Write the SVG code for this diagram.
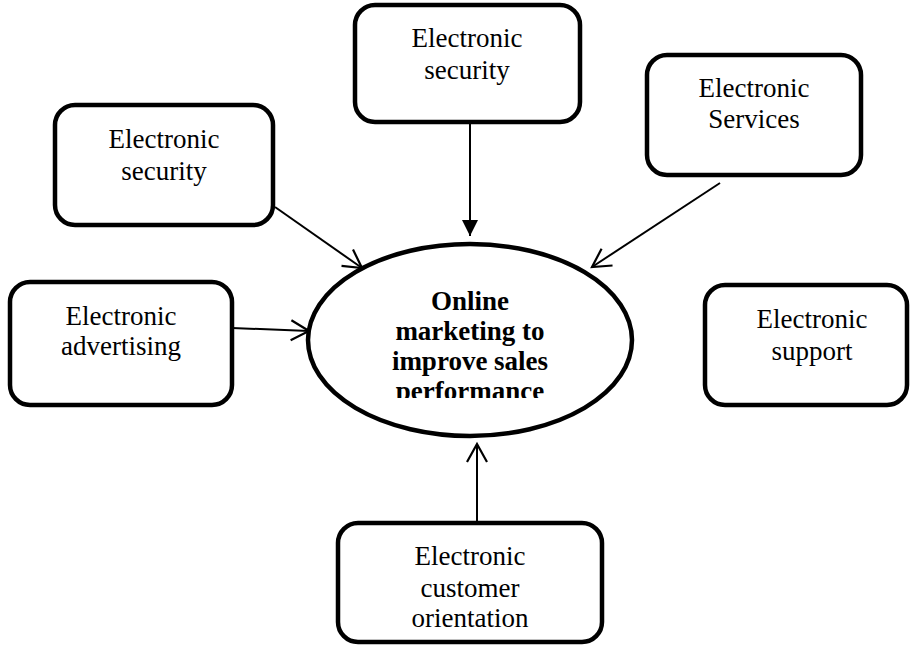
<svg xmlns="http://www.w3.org/2000/svg" width="910" height="645" viewBox="0 0 910 645">
<style>
.box{fill:#fff;stroke:#000;stroke-width:4.5}
.t{font-family:"Liberation Serif","Times New Roman",serif;font-size:27px;text-anchor:middle;fill:#000}
.b{font-family:"Liberation Serif","Times New Roman",serif;font-size:27px;font-weight:bold;text-anchor:middle;fill:#000}
.c{fill:none;stroke:#000;stroke-width:2}
</style>
<defs>
<marker id="open" markerWidth="24" markerHeight="24" refX="20" refY="12" orient="auto" markerUnits="userSpaceOnUse">
<path d="M2,2 L20,12 L2,22" fill="none" stroke="#000" stroke-width="2.2"/>
</marker>
<marker id="solid" markerWidth="20" markerHeight="20" refX="16" refY="8" orient="auto" markerUnits="userSpaceOnUse">
<path d="M0,0 L16,8 L0,16 Z" fill="#000"/>
</marker>
<clipPath id="clipE"><rect x="300" y="240" width="350" height="158"/></clipPath>
</defs>
<g id="connectors">
<line class="c" x1="470" y1="122" x2="470" y2="236" marker-end="url(#solid)"/>
<line class="c" x1="275" y1="207" x2="362" y2="268" marker-end="url(#open)"/>
<line class="c" x1="720" y1="183" x2="592" y2="267" marker-end="url(#open)"/>
<line class="c" x1="232" y1="328" x2="309" y2="331" marker-end="url(#open)"/>
<line class="c" x1="477" y1="523" x2="477" y2="444" marker-end="url(#open)"/>
</g>
<g id="center">
<ellipse cx="470" cy="340" rx="162" ry="96" fill="#fff" stroke="#000" stroke-width="4.5"/>
<g clip-path="url(#clipE)">
<text class="b" x="470" y="310">Online</text>
<text class="b" x="470" y="340">marketing to</text>
<text class="b" x="470" y="370">improve sales</text>
<text class="b" x="470" y="400">performance</text>
</g>
</g>
<g id="n-top">
<rect class="box" x="355" y="5" width="225" height="117" rx="20"/>
<text class="t" x="467" y="47">Electronic</text>
<text class="t" x="467" y="79">security</text>
</g>
<g id="n-topleft">
<rect class="box" x="55" y="105" width="218" height="120" rx="20"/>
<text class="t" x="164" y="148">Electronic</text>
<text class="t" x="164" y="180">security</text>
</g>
<g id="n-topright">
<rect class="box" x="647" y="55" width="214" height="120" rx="20"/>
<text class="t" x="754" y="97">Electronic</text>
<text class="t" x="754" y="128">Services</text>
</g>
<g id="n-left">
<rect class="box" x="10" y="282" width="222" height="123" rx="20"/>
<text class="t" x="121" y="325">Electronic</text>
<text class="t" x="121" y="355">advertising</text>
</g>
<g id="n-right">
<rect class="box" x="705" y="285" width="202" height="120" rx="20"/>
<text class="t" x="812" y="328">Electronic</text>
<text class="t" x="812" y="360">support</text>
</g>
<g id="n-bottom">
<rect class="box" x="338" y="523" width="264" height="119" rx="20"/>
<text class="t" x="470" y="565">Electronic</text>
<text class="t" x="470" y="597">customer</text>
<text class="t" x="470" y="627">orientation</text>
</g>
</svg>
